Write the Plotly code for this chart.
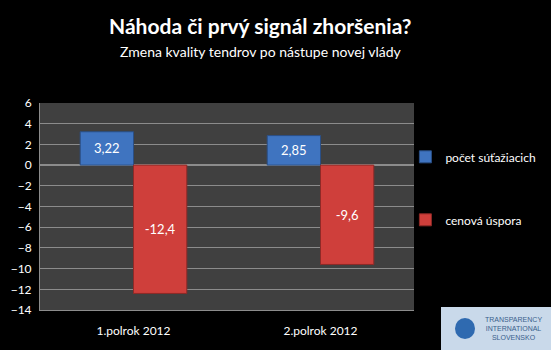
import plotly.graph_objects as go

categories = ["1.polrok 2012", "2.polrok 2012"]
series_names = ["počet súťažiacich", "cenová úspora"]
pocet = [3.22, 2.85]
uspora = [-12.4, -9.6]
tick_vals = list(range(-14, 7, 2))

def lab(v):
    return [f"{x:g}".replace(".", ",") for x in v]

fig = go.Figure()
fig.add_trace(go.Bar(
    x=categories, y=pocet, name=series_names[0], legendgroup="a",
    marker=dict(color="#3f74c0", line=dict(color="#2a4f86", width=1)),
    text=lab(pocet), textposition="inside", insidetextanchor="middle",
    textfont=dict(color="white", size=13, family="Lato"),
))
fig.add_trace(go.Bar(
    x=categories, y=uspora, name=series_names[1], legendgroup="b",
    marker=dict(color="#cf3f3b", line=dict(color="#8e2a27", width=1)),
    text=lab(uspora), textposition="inside", insidetextanchor="middle",
    textfont=dict(color="white", size=13, family="Lato"),
))

fig.update_layout(
    width=551, height=350,
    paper_bgcolor="black", plot_bgcolor="#404040",
    margin=dict(l=40, r=137, t=103, b=40, autoexpand=False),
    barmode="group", bargap=0.43, bargroupgap=0,
    font=dict(family="Lato", color="white", size=12),
    showlegend=True,
    legend=dict(x=0.977, xanchor="left", y=0.81, yanchor="top",
                bgcolor="rgba(0,0,0,0)", font=dict(size=12, color="white"),
                tracegroupgap=44, itemwidth=30),
    xaxis=dict(showgrid=False, tickfont=dict(size=12, color="white"),
               showline=True, linecolor="#8c8c8c", ticks="", ticklabelstandoff=10),
    yaxis=dict(range=[-14, 6], tickvals=tick_vals, showgrid=True,
               gridcolor="#8c8c8c", gridwidth=1, zeroline=True, zerolinecolor="#8c8c8c",
               showline=True, linecolor="#8c8c8c", tickfont=dict(size=12, color="white"),
               ticks="", ticklabelstandoff=5),
)

fig.add_annotation(text="<b>Náhoda či prvý signál zhoršenia?</b>", xref="paper", yref="paper",
                   x=(259.5 - 40) / 374, y=(310 - 25) / 207,
                   xanchor="center", yanchor="middle", showarrow=False,
                   font=dict(size=21, color="white", family="Lato"))
fig.add_annotation(text="Zmena kvality tendrov po nástupe novej vlády", xref="paper", yref="paper",
                   x=(261 - 40) / 374, y=(310 - 51) / 207, xanchor="center", yanchor="middle",
                   showarrow=False, font=dict(size=14, color="white", family="Lato"))

# logo box
fig.add_shape(type="rect", xref="paper", yref="paper",
              x0=(441 - 40) / 374, x1=(551 - 40) / 374, y0=(310 - 350) / 207, y1=(310 - 307) / 207,
              fillcolor="#c9d9ea", line=dict(width=0), layer="above")
fig.add_shape(type="circle", xref="paper", yref="paper",
              x0=(455 - 40) / 374, x1=(475 - 40) / 374, y0=(310 - 339) / 207, y1=(310 - 318) / 207,
              fillcolor="#2f6ab0", line=dict(width=0), layer="above")
fig.add_annotation(text="TRANSPARENCY<br>INTERNATIONAL<br>SLOVENSKO", xref="paper", yref="paper",
                   x=(513 - 40) / 374, y=(310 - 328) / 207, xanchor="center", yanchor="middle",
                   showarrow=False, align="center",
                   font=dict(size=7, color="#3a5f8c", family="Liberation Sans"))

fig.write_html("out.html")
